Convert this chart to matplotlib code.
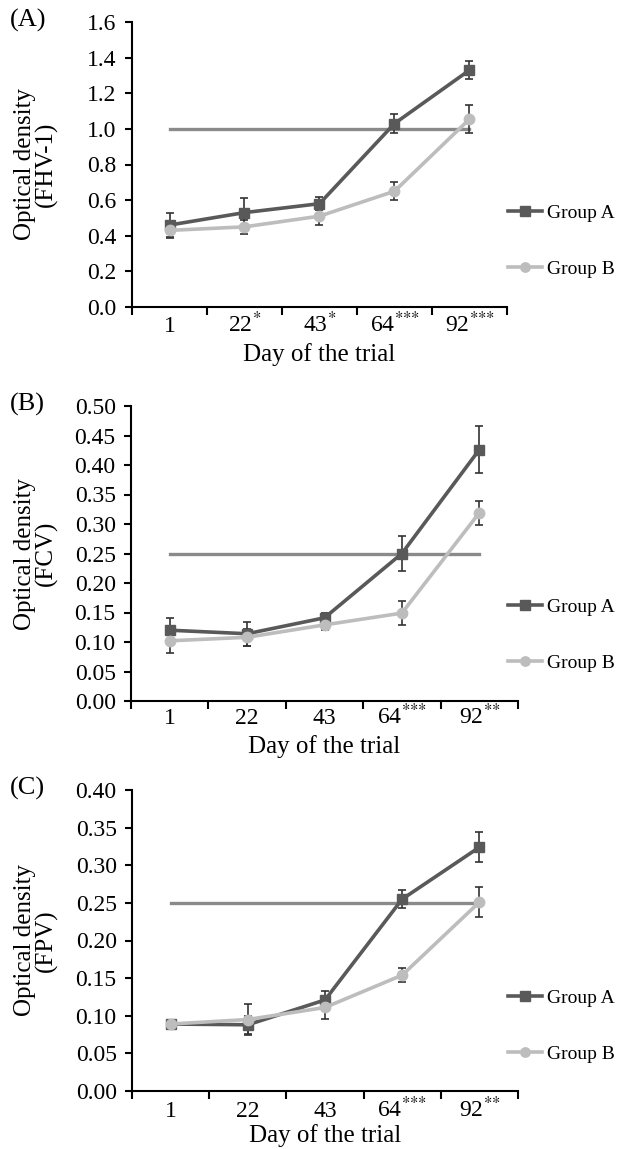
import matplotlib
matplotlib.use("Agg")
import matplotlib.pyplot as plt
import numpy as np

plt.rcParams['font.family'] = ['Liberation Serif', 'DejaVu Serif']
plt.rcParams['mathtext.fontset'] = 'stix'

# ---- data ----
days = ["1", "22", "43", "64", "92"]
stars_A = ["", "*", "*", "***", "***"]
stars_B = ["", "", "", "***", "**"]
stars_C = ["", "", "", "***", "**"]

fhv_A = [0.46, 0.53, 0.58, 1.03, 1.33]
fhv_A_err = [0.07, 0.08, 0.035, 0.055, 0.05]
fhv_B = [0.43, 0.45, 0.51, 0.65, 1.055]
fhv_B_err = [0.035, 0.04, 0.05, 0.05, 0.08]
fhv_cutoff = 1.0

fcv_A = [0.120, 0.114, 0.141, 0.250, 0.426]
fcv_A_err = [0.020, 0.020, 0.008, 0.030, 0.040]
fcv_B = [0.102, 0.108, 0.129, 0.149, 0.319]
fcv_B_err = [0.020, 0.014, 0.009, 0.020, 0.020]
fcv_cutoff = 0.25

fpv_A = [0.089, 0.088, 0.121, 0.255, 0.324]
fpv_A_err = [0.005, 0.012, 0.012, 0.012, 0.020]
fpv_B = [0.089, 0.095, 0.111, 0.154, 0.251]
fpv_B_err = [0.005, 0.020, 0.015, 0.009, 0.020]
fpv_cutoff = 0.25

W, H = 623, 1149
panels = [
    dict(letter="(A)", virus="FHV-1", A=fhv_A, Ae=fhv_A_err, B=fhv_B, Be=fhv_B_err,
         cut=fhv_cutoff, stars=stars_A, ylim=(0, 1.6), step=0.2, fmt="%.1f",
         px=(132, 22, 507, 307), tl=25, xl=48, leg=241),
    dict(letter="(B)", virus="FCV", A=fcv_A, Ae=fcv_A_err, B=fcv_B, Be=fcv_B_err,
         cut=fcv_cutoff, stars=stars_B, ylim=(0, 0.5), step=0.05, fmt="%.2f",
         px=(131, 406, 518, 701), tl=23, xl=46, leg=635),
    dict(letter="(C)", virus="FPV", A=fpv_A, Ae=fpv_A_err, B=fpv_B, Be=fpv_B_err,
         cut=fpv_cutoff, stars=stars_C, ylim=(0, 0.4), step=0.05, fmt="%.2f",
         px=(132, 790, 518, 1091), tl=26, xl=45, leg=1026),
]

colA = "#595959"
colB = "#bdbdbd"
colRef = "#8a8a8a"
colErr = "#333333"

fig = plt.figure(figsize=(W / 100, H / 100), dpi=100)
FS = 17

for p in panels:
    l, t, r, b = p["px"]
    ax = fig.add_axes([l / W, 1 - b / H, (r - l) / W, (b - t) / H])
    hpx = b - t
    wpx = r - l
    x = np.arange(1, len(days) + 1)
    ax.plot([x[0], x[-1]], [p["cut"], p["cut"]], color=colRef, lw=2.4, zorder=2)
    ax.errorbar(x, p["A"], yerr=p["Ae"], fmt='none', ecolor=colErr, elinewidth=1.2,
                capsize=3, capthick=1.2, zorder=3)
    ax.errorbar(x, p["B"], yerr=p["Be"], fmt='none', ecolor=colErr, elinewidth=1.2,
                capsize=3, capthick=1.2, zorder=3)
    lA, = ax.plot(x, p["A"], color=colA, lw=2.6, marker='s', ms=7.5, zorder=4, label="Group A")
    lB, = ax.plot(x, p["B"], color=colB, lw=2.6, marker='o', ms=7.5, zorder=5, label="Group B")

    ax.set_xlim(0.5, len(days) + 0.5)
    ax.set_ylim(*p["ylim"])
    yt = np.arange(p["ylim"][0], p["ylim"][1] + p["step"] / 2, p["step"])
    ax.set_yticks(yt)
    ax.set_yticklabels([p["fmt"] % v for v in yt], fontsize=FS)
    labels = [d if s == "" else d + "$^{" + "".join("{*}" for _ in s) + "}$"
              for d, s in zip(days, p["stars"])]
    ax.set_xticks(x)
    ax.set_xticklabels(labels, fontsize=FS, va='baseline')
    ax.set_xticks(np.arange(0.5, len(days) + 1), minor=True)
    ax.tick_params(axis='x', which='major', length=0, pad=p["tl"] * 0.72)
    ax.tick_params(axis='x', which='minor', length=6, width=1.5, direction='out')
    ax.tick_params(axis='y', length=5, width=1.5, direction='out', pad=6)
    for s in ("top", "right"):
        ax.spines[s].set_visible(False)
    for s in ("left", "bottom"):
        ax.spines[s].set_linewidth(1.5)
    ax.set_xlabel("Day of the trial", fontsize=18, va='center')
    ax.xaxis.set_label_coords(0.5, -p["xl"] / hpx)
    ax.set_ylabel("Optical density\n(" + p["virus"] + ")", fontsize=18, linespacing=0.9,
                  va='center')
    ax.yaxis.set_label_coords(-(l - 36) / wpx, 0.5)

    fig.text(10 / W, 1 - (t - 2) / H, p["letter"], fontsize=19, va='center', ha='left')

    ax.legend(handles=[lA, lB], loc='center left', frameon=False, fontsize=14,
              bbox_to_anchor=(508 / W, 1 - p["leg"] / H),
              bbox_transform=fig.transFigure, borderaxespad=0, borderpad=0,
              handlelength=1.75, handletextpad=0.25, labelspacing=2.0, markerscale=0.9)

fig.savefig("out.png", dpi=100)
